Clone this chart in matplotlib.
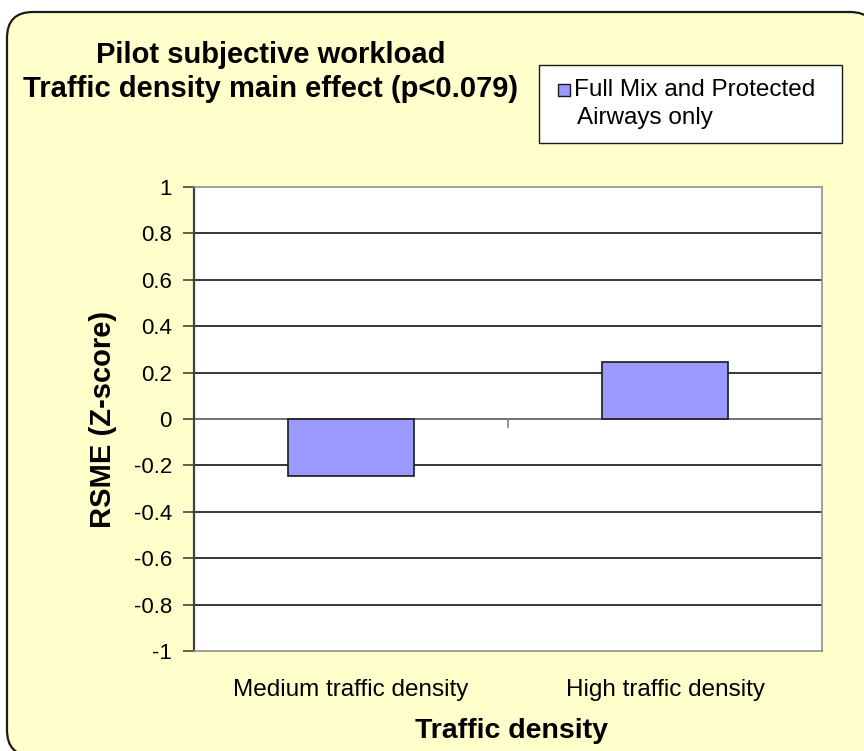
import matplotlib
matplotlib.use("Agg")
import matplotlib.pyplot as plt
from matplotlib.patches import FancyBboxPatch, Rectangle
import numpy as np

categories = ["Medium traffic density", "High traffic density"]
values = [-0.245, 0.245]
series_name = "Full Mix and Protected\nAirways only"
yticks = [-1, -0.8, -0.6, -0.4, -0.2, 0, 0.2, 0.4, 0.6, 0.8, 1]
ytick_labels = ["-1", "-0.8", "-0.6", "-0.4", "-0.2", "0", "0.2", "0.4", "0.6", "0.8", "1"]

plt.rcParams["font.family"] = ["Liberation Sans", "DejaVu Sans"]

W, H = 864, 751
fig = plt.figure(figsize=(W / 100, H / 100), dpi=100)
fig.patch.set_facecolor("white")

# rounded chart-area frame (pixel coordinates)
frame = FancyBboxPatch((7, -5), 869, 744, boxstyle="round,pad=0,rounding_size=26",
                       transform=None, facecolor="#FFFFCC", edgecolor="#1a1a1a",
                       linewidth=1.6, zorder=-5)
fig.patches.append(frame)

ax = fig.add_axes([194 / W, 1 - 651 / H, (822 - 194) / W, (651 - 187) / H])
ax.set_zorder(2)
ax.set_facecolor("white")

x = np.arange(len(categories))
ax.bar(x, values, width=0.40, color="#9999FF", edgecolor="#1a1a1a", linewidth=1.2, zorder=3)

ax.set_xlim(-0.5, len(categories) - 0.5)
ax.set_ylim(-1, 1)
ax.set_yticks(yticks)
ax.set_yticklabels(ytick_labels, fontsize=16)
for yv in yticks[1:-1]:
    ax.axhline(yv, color="black", linewidth=1.1, zorder=1)

# category axis crossing at zero
ax.axhline(0, color="#808080", linewidth=1.2, zorder=2)
for b in np.arange(0.5, len(categories) - 0.5, 1.0):
    ax.plot([b, b], [0, -0.035], color="#808080", linewidth=1.2, zorder=2, clip_on=False)

ax.set_xticks([])
for s in ["top", "right", "bottom"]:
    ax.spines[s].set_color("#909090")
    ax.spines[s].set_linewidth(1.2)
ax.spines["left"].set_color("#404040")
ax.spines["left"].set_linewidth(1.6)
ax.tick_params(axis="y", direction="out", length=8, width=1.1, color="#333333", pad=8)

for xi, lab in zip(x, categories):
    ax.text(xi, -1.17, lab, ha="center", va="center", fontsize=17.5)

ax.set_ylabel("RSME (Z-score)", fontsize=21, fontweight="bold", labelpad=12)
fig.text(511 / W, 1 - 731 / H, "Traffic density", ha="center", va="center",
         fontsize=20.5, fontweight="bold")

fig.text(271 / W, 1 - 55 / H, "Pilot subjective workload", ha="center", va="center",
         fontsize=21, fontweight="bold")
fig.text(271 / W, 1 - 89 / H, "Traffic density main effect (p<0.079)", ha="center", va="center",
         fontsize=21, fontweight="bold")

# legend box
lx0, ly0, lx1, ly1 = 539, 65, 842, 143
fig.patches.append(Rectangle((lx0 / W, 1 - ly1 / H), (lx1 - lx0) / W, (ly1 - ly0) / H,
                             transform=fig.transFigure, facecolor="white",
                             edgecolor="#1a1a1a", linewidth=1.0, zorder=1))
fig.patches.append(Rectangle((558 / W, 1 - 96 / H), 12 / W, 12 / H, transform=fig.transFigure,
                             facecolor="#9999FF", edgecolor="#1a1a1a", linewidth=1.0, zorder=2))
line1, line2 = series_name.split("\n")
fig.text(574 / W, 1 - 90 / H, line1, ha="left", va="center", fontsize=17.5)
fig.text(577 / W, 1 - 118 / H, line2, ha="left", va="center", fontsize=17.5)

fig.savefig("out.png", dpi=100, facecolor="white")
